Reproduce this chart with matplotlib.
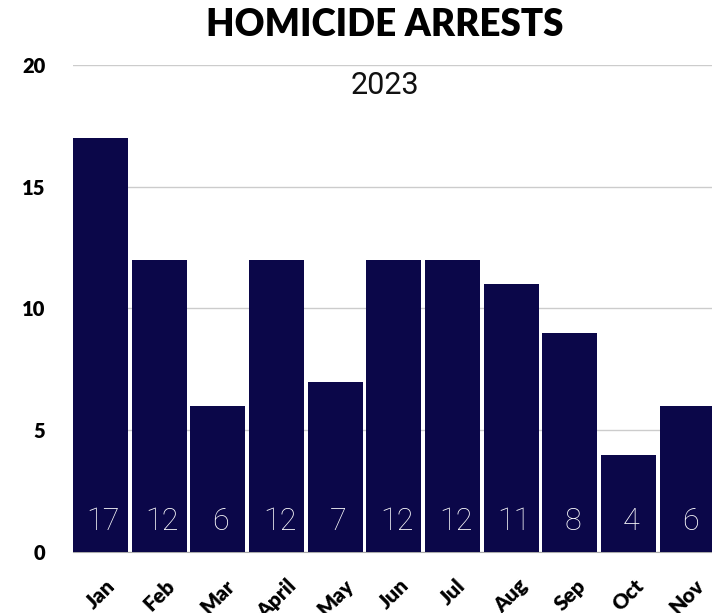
import matplotlib.pyplot as plt
import numpy as np

months = ['Jan', 'Feb', 'Mar', 'April', 'May', 'Jun', 'Jul', 'Aug', 'Sep', 'Oct', 'Nov']
arrests = [17, 12, 6, 12, 7, 12, 12, 11, 9, 4, 6]
# labels printed inside the bars (as shown in the original)
bar_labels = ['17', '12', '6', '12', '7', '12', '12', '11', '8', '4', '6']
yticks = [0, 5, 10, 15, 20]

plt.rcParams['font.family'] = ['Lato', 'DejaVu Sans']
thin = ['Roboto', 'DejaVu Sans']

fig = plt.figure(figsize=(7.12, 6.13), dpi=100)
ax = fig.add_axes([73 / 712, 1 - 552 / 613, 1 - 73 / 712, (552 - 65) / 613])

x = np.arange(len(months))
ax.bar(x, arrests, width=0.937, color='#0b0749', zorder=2)

for xi, lab in zip(x, bar_labels):
    ax.text(xi + 0.05, 1.25, lab, color='white', ha='center', va='center',
            fontsize=22, fontweight='light', family=thin, zorder=3)

ax.set_xlim(-0.4685, 10.42)
ax.set_ylim(0, 20)
ax.set_yticks(yticks)
ax.set_yticklabels([str(v) for v in yticks], fontsize=14.5, fontweight='heavy')
ax.set_xticks(x)
ax.set_xticklabels(months, rotation=45, ha='center', va='top',
                   fontsize=15, fontweight='heavy')
ax.tick_params(axis='both', length=0)
ax.tick_params(axis='y', pad=20)
ax.tick_params(axis='x', pad=17)

ax.grid(axis='y', color='#cccccc', linewidth=1, zorder=0)
for s in ['top', 'right', 'left']:
    ax.spines[s].set_visible(False)
ax.spines['bottom'].set_color('#aaaaaa')
ax.spines['bottom'].set_zorder(1)

fig.text(385 / 712, 1 - 25 / 613, 'HOMICIDE ARRESTS', ha='center', va='center',
         fontsize=26.5, fontweight='heavy')
fig.text(385 / 712, 1 - 86 / 613, '2023', ha='center', va='center',
         fontsize=22, fontweight='normal', family=thin, color='#111111')

fig.savefig('out.png', dpi=100)
